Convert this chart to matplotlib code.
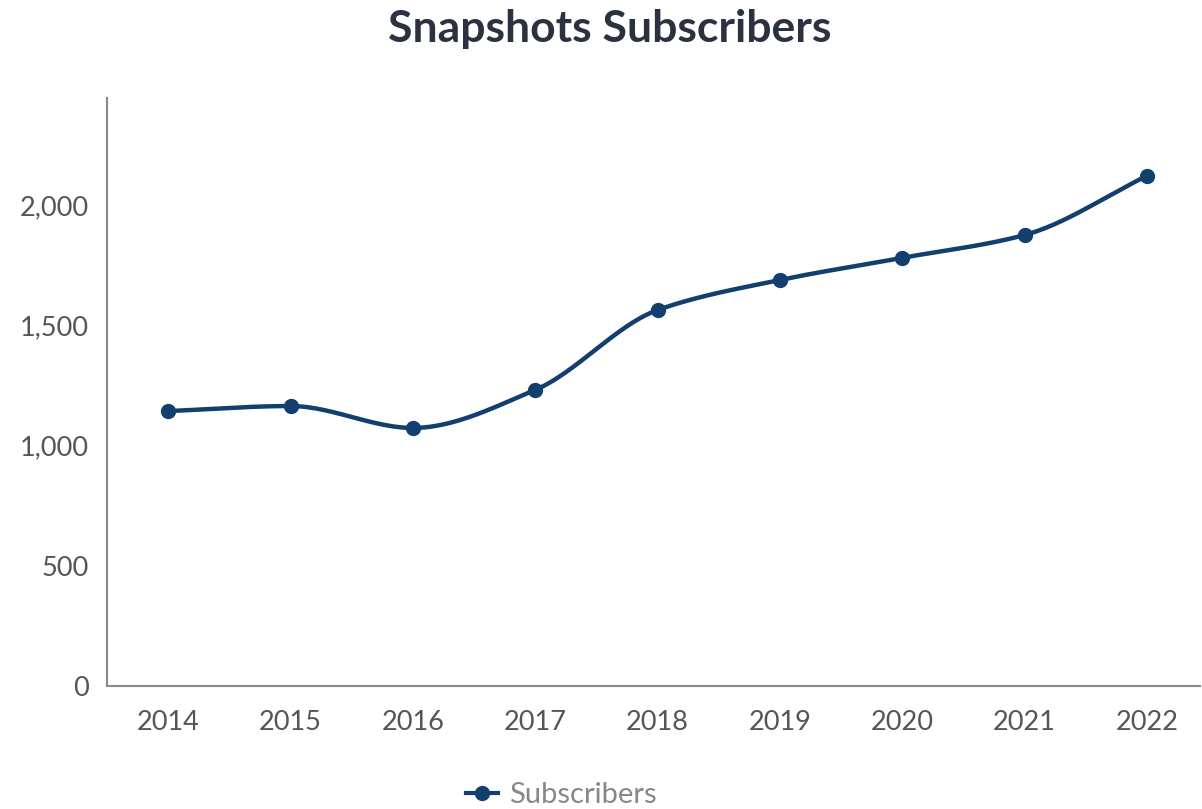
import numpy as np
import matplotlib.pyplot as plt
from matplotlib.lines import Line2D
from matplotlib.ticker import FuncFormatter

years = ['2014', '2015', '2016', '2017', '2018', '2019', '2020', '2021', '2022']
subscribers = [1143, 1164, 1073, 1231, 1563, 1688, 1780, 1875, 2121]
yticks = [0, 500, 1000, 1500, 2000]

navy = '#123f6e'
plt.rcParams['font.family'] = ['Lato', 'DejaVu Sans']


def smooth(x, y, n=30):
    # cubic hermite through the points (monotone tangents) to mimic a smoothed line
    x = np.asarray(x, float); y = np.asarray(y, float)
    d = np.diff(y) / np.diff(x)
    m = np.zeros_like(y)
    m[0] = d[0]; m[-1] = d[-1]
    for i in range(1, len(y) - 1):
        if d[i-1] * d[i] <= 0:
            m[i] = 0
        else:
            m[i] = 2 / (1 / d[i-1] + 1 / d[i])
    xs = []; ys = []
    for i in range(len(x) - 1):
        t = np.linspace(0, 1, n)
        h = x[i+1] - x[i]
        h00 = 2*t**3 - 3*t**2 + 1
        h10 = t**3 - 2*t**2 + t
        h01 = -2*t**3 + 3*t**2
        h11 = t**3 - t**2
        xs.append(x[i] + t*h)
        ys.append(h00*y[i] + h10*h*m[i] + h01*y[i+1] + h11*h*m[i+1])
    return np.concatenate(xs), np.concatenate(ys)


fig = plt.figure(figsize=(12.02, 8.09), dpi=100)
ax = fig.add_axes([0.089, 0.152, 0.909, 0.727])

xpos = np.arange(len(years))
sx, sy = smooth(xpos, subscribers)
ax.plot(sx, sy, color=navy, linewidth=3.2, solid_capstyle='round')
ax.plot(xpos, subscribers, 'o', color=navy, markersize=10)

ax.set_xlim(-0.5, 8.43)
ax.set_ylim(0, 2445)
ax.set_xticks(xpos)
ax.set_xticklabels(years)
ax.set_yticks(yticks)
ax.yaxis.set_major_formatter(FuncFormatter(lambda v, p: '{:,.0f}'.format(v)))
ax.tick_params(length=0, labelsize=19.5, colors='#555555')
ax.tick_params(axis='x', pad=17)
ax.tick_params(axis='y', pad=13)
for s in ['top', 'right']:
    ax.spines[s].set_visible(False)
for s in ['left', 'bottom']:
    ax.spines[s].set_color('#8a8a8a')
    ax.spines[s].set_linewidth(1.5)

fig.text(0.507, 0.964, 'Snapshots Subscribers', ha='center', va='center',
         fontsize=32, fontweight='bold', color='#2a3240')

handle = Line2D([0], [0], color=navy, marker='o', markersize=10, linewidth=3)
fig.legend([handle], ['Subscribers'], loc='center', bbox_to_anchor=(0.467, 0.017),
           frameon=False, fontsize=21, labelcolor='#888888', handlelength=1.1,
           handletextpad=0.35)

fig.savefig('out.png', dpi=100)
